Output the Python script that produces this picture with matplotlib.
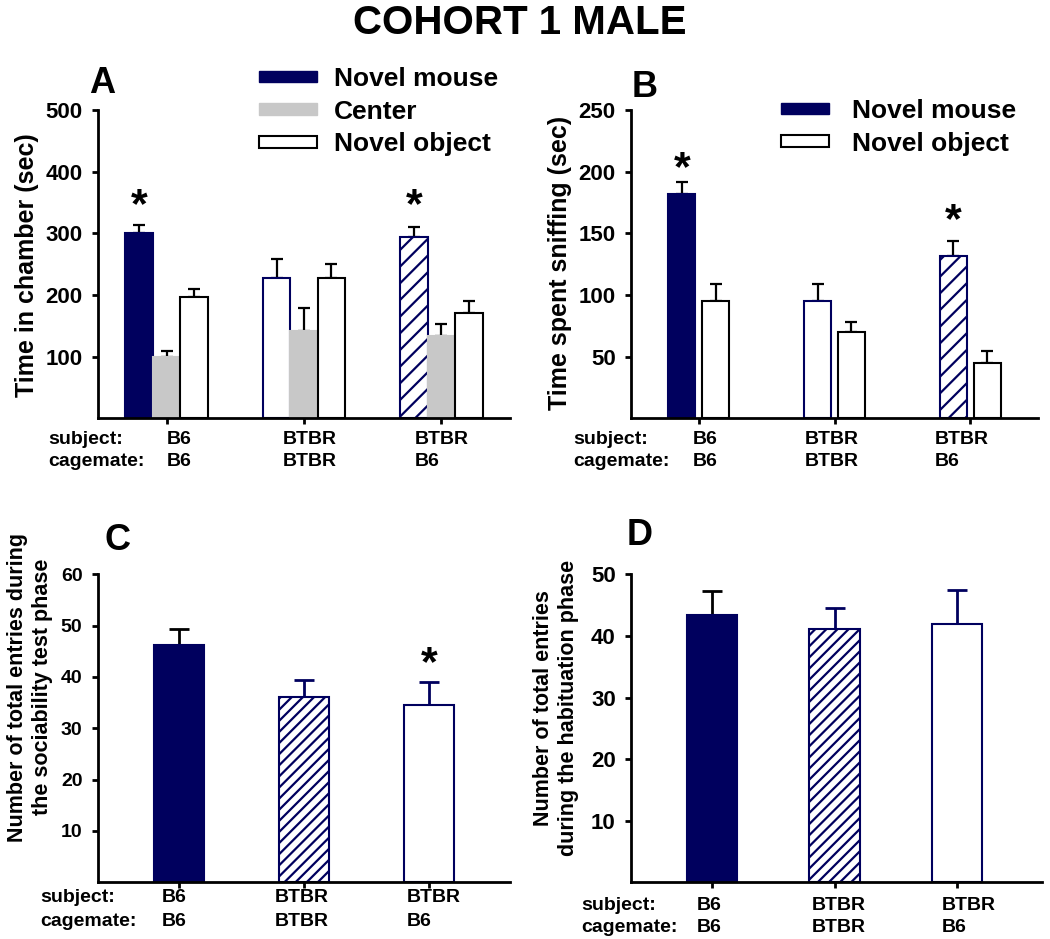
import matplotlib
matplotlib.use("Agg")
import matplotlib.pyplot as plt
from matplotlib.patches import Patch
from matplotlib.transforms import offset_copy
import numpy as np

plt.rcParams['font.family'] = ['Liberation Sans', 'DejaVu Sans']
plt.rcParams['font.weight'] = 'bold'
plt.rcParams['hatch.linewidth'] = 1.6

# ---------------- data ----------------
subjects = ['B6', 'BTBR', 'BTBR']
cagemates = ['B6', 'BTBR', 'B6']

a_mouse = [300, 228, 294]
a_mouse_err = [14, 31, 17]
a_center = [100, 141, 133]
a_center_err = [10, 38, 20]
a_object = [197, 228, 171]
a_object_err = [12, 23, 19]

b_mouse = [182, 95, 132]
b_mouse_err = [10, 14, 12]
b_object = [95, 70, 45]
b_object_err = [14, 8, 10]

c_entries = [46.2, 36.1, 34.6]
c_entries_err = [3.1, 3.4, 4.5]

d_entries = [43.4, 41.1, 42.0]
d_entries_err = [3.9, 3.5, 5.4]

a_ticks = [100, 200, 300, 400, 500]
b_ticks = [50, 100, 150, 200, 250]
c_ticks = [10, 20, 30, 40, 50, 60]
d_ticks = [10, 20, 30, 40, 50]

NAVY = '#00005e'
GRAY = '#c8c8c8'

W, H = 1050, 939
fig = plt.figure(figsize=(W / 100, H / 100), dpi=100)


def fx(x):
    return x / W


def fy(y):
    return 1 - y / H


def make_ax(l, t, r, b):
    ax = fig.add_axes([fx(l), fy(b), (r - l) / W, (b - t) / H])
    for s in ['top', 'right']:
        ax.spines[s].set_visible(False)
    for s in ['left', 'bottom']:
        ax.spines[s].set_linewidth(2)
    ax.tick_params(direction='out', length=4, width=2, pad=7)
    return ax


solid = (NAVY, NAVY, None)
whiten = ('white', NAVY, None)


def hatched(h):
    return ('white', NAVY, h)


def draw_bar(ax, x, v, e, style, width, ecolor, capsize, elw):
    fc, ec, h = style
    ax.bar(x, v, width=width, color=fc, edgecolor=ec, hatch=h, linewidth=1.5, zorder=2)
    ax.errorbar(x, v, yerr=[[0], [e]], fmt='none', ecolor=ecolor, elinewidth=elw,
                capsize=capsize, capthick=elw, zorder=1)


def star(ax, xv, yv, dy_px):
    tr = offset_copy(ax.transData, fig=fig, x=0, y=-dy_px, units='dots')
    ax.text(xv, yv, '*', fontsize=31, ha='center', va='center', transform=tr)


x = np.arange(3)
STAR_SHIFT = 9

# ---------------- Panel A ----------------
axA = make_ax(98, 110, 510, 418.4)
stylesA = [solid, whiten, hatched('//')]
for i in range(3):
    draw_bar(axA, x[i] - 0.2, a_mouse[i], a_mouse_err[i], stylesA[i], 0.2, 'black', 4.5, 1.6)
    draw_bar(axA, x[i], a_center[i], a_center_err[i], (GRAY, GRAY, None), 0.2, 'black', 4.5, 1.6)
    draw_bar(axA, x[i] + 0.2, a_object[i], a_object_err[i], ('white', 'black', None), 0.2, 'black', 4.5, 1.6)
axA.set_xlim(-0.5, 2.5)
axA.set_ylim(0, 500)
axA.set_yticks(a_ticks)
axA.set_xticks(x)
axA.set_xticklabels([])
axA.tick_params(axis='y', labelsize=16)
for i in [0, 2]:
    star(axA, x[i] - 0.2, 359, STAR_SHIFT)
axA.legend(handles=[Patch(facecolor=NAVY, edgecolor=NAVY),
                    Patch(facecolor=GRAY, edgecolor=GRAY),
                    Patch(facecolor='white', edgecolor='black', linewidth=1.5)],
           labels=['Novel mouse', 'Center', 'Novel object'],
           loc='upper left', bbox_to_anchor=(fx(259), fy(67)),
           bbox_transform=fig.transFigure, frameon=False, borderpad=0,
           borderaxespad=0, handlelength=2.2, handleheight=0.32,
           handletextpad=0.65, labelspacing=0.33,
           prop={'size': 19, 'weight': 'bold'})
fig.text(fx(48), fy(440), 'subject:', fontsize=14, va='center', ha='left')
fig.text(fx(48), fy(462), 'cagemate:', fontsize=14, va='center', ha='left')
for px, s, c in zip([167, 283, 415], subjects, cagemates):
    fig.text(fx(px), fy(440), s, fontsize=14, va='center', ha='left')
    fig.text(fx(px), fy(462), c, fontsize=14, va='center', ha='left')
fig.text(fx(27), fy(265), 'Time in chamber (sec)', rotation=90, fontsize=18,
         ha='center', va='center')
fig.text(fx(89), fy(93), 'A', fontsize=26, ha='left', va='baseline')

# ---------------- Panel B ----------------
axB = make_ax(631, 110, 1038, 418.4)
stylesB = [solid, whiten, hatched('//')]
for i in range(3):
    draw_bar(axB, x[i] - 0.125, b_mouse[i], b_mouse_err[i], stylesB[i], 0.2, 'black', 4.5, 1.6)
    draw_bar(axB, x[i] + 0.125, b_object[i], b_object_err[i], ('white', 'black', None), 0.2, 'black', 4.5, 1.6)
axB.set_xlim(-0.5, 2.5)
axB.set_ylim(0, 250)
axB.set_yticks(b_ticks)
axB.set_xticks(x)
axB.set_xticklabels([])
axB.tick_params(axis='y', labelsize=16)
star(axB, x[0] - 0.125, 209.5, STAR_SHIFT)
star(axB, x[2] - 0.125, 167.3, STAR_SHIFT)
axB.legend(handles=[Patch(facecolor=NAVY, edgecolor=NAVY),
                    Patch(facecolor='white', edgecolor='black', linewidth=1.5)],
           labels=['Novel mouse', 'Novel object'],
           loc='upper left', bbox_to_anchor=(fx(781), fy(99)),
           bbox_transform=fig.transFigure, frameon=False, borderpad=0,
           borderaxespad=0, handlelength=1.8, handleheight=0.32,
           handletextpad=0.9, labelspacing=0.33,
           prop={'size': 19, 'weight': 'bold'})
fig.text(fx(573), fy(440), 'subject:', fontsize=14, va='center', ha='left')
fig.text(fx(573), fy(462), 'cagemate:', fontsize=14, va='center', ha='left')
for px, s, c in zip([693, 805, 935], subjects, cagemates):
    fig.text(fx(px), fy(440), s, fontsize=14, va='center', ha='left')
    fig.text(fx(px), fy(462), c, fontsize=14, va='center', ha='left')
fig.text(fx(560), fy(263), 'Time spent sniffing (sec)', rotation=90, fontsize=18,
         ha='center', va='center')
fig.text(fx(632), fy(97), 'B', fontsize=26, ha='left', va='baseline')

# ---------------- Panel C ----------------
axC = make_ax(97.7, 574.3, 510, 882.3)
stylesC = [solid, hatched('///'), whiten]
ecolC = ['black', NAVY, NAVY]
for i in range(3):
    draw_bar(axC, x[i], c_entries[i], c_entries_err[i], stylesC[i], 0.4, ecolC[i], 7, 2)
axC.set_xlim(-0.65, 2.65)
axC.set_ylim(0, 60)
axC.set_yticks(c_ticks)
axC.set_xticks(x)
axC.set_xticklabels([])
axC.tick_params(axis='y', labelsize=14)
star(axC, x[2], 44.3, STAR_SHIFT)
fig.text(fx(40), fy(898), 'subject:', fontsize=14, va='center', ha='left')
fig.text(fx(40), fy(922), 'cagemate:', fontsize=14, va='center', ha='left')
for px, s, c in zip([162, 275, 407], subjects, cagemates):
    fig.text(fx(px), fy(898), s, fontsize=14, va='center', ha='left')
    fig.text(fx(px), fy(922), c, fontsize=14, va='center', ha='left')
fig.text(fx(30), fy(687), 'Number of total entries during\nthe sociability test phase',
         rotation=90, fontsize=15.5, ha='center', va='center', multialignment='center')
fig.text(fx(105), fy(550), 'C', fontsize=26, ha='left', va='baseline')

# ---------------- Panel D ----------------
axD = make_ax(631, 574.3, 1041.7, 882.3)
stylesD = [solid, hatched('///'), whiten]
ecolD = ['black', NAVY, NAVY]
for i in range(3):
    draw_bar(axD, x[i], d_entries[i], d_entries_err[i], stylesD[i], 0.41, ecolD[i], 7, 2)
axD.set_xlim(-0.66, 2.69)
axD.set_ylim(0, 50)
axD.set_yticks(d_ticks)
axD.set_xticks(x)
axD.set_xticklabels([])
axD.tick_params(axis='y', labelsize=16)
fig.text(fx(581), fy(905), 'subject:', fontsize=14, va='center', ha='left')
fig.text(fx(581), fy(927), 'cagemate:', fontsize=14, va='center', ha='left')
for px, s, c in zip([697, 812, 942], subjects, cagemates):
    fig.text(fx(px), fy(905), s, fontsize=14, va='center', ha='left')
    fig.text(fx(px), fy(927), c, fontsize=14, va='center', ha='left')
fig.text(fx(556), fy(708), 'Number of total entries\nduring the habituation phase',
         rotation=90, fontsize=15.5, ha='center', va='center', multialignment='center')
fig.text(fx(627), fy(545), 'D', fontsize=26, ha='left', va='baseline')

# ---------------- Title ----------------
fig.text(fx(520), fy(23), 'COHORT 1 MALE', fontsize=29, ha='center', va='center')

fig.savefig('out.png', dpi=100, facecolor='white')
